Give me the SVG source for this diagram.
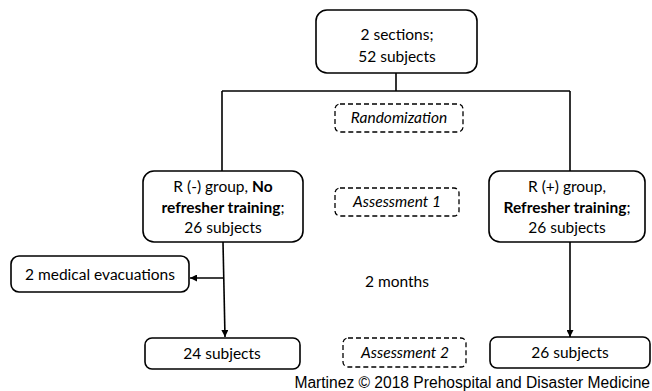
<svg xmlns="http://www.w3.org/2000/svg" width="652" height="391" viewBox="0 0 652 391">
<style>
.box{fill:#fff;stroke:#000;stroke-width:1.6}
.dash{fill:#fff;stroke:#000;stroke-width:1.3;stroke-dasharray:5,3}
.t{font-family:Lato,"Open Sans",sans-serif;font-size:15.5px;fill:#000;text-anchor:middle}
.i{font-style:italic}
.b{font-weight:bold}
.ln{stroke:#000;stroke-width:1.6;fill:none}
.foot{font-family:"Liberation Sans",Arial,sans-serif;font-size:15.6px;fill:#000;text-anchor:end}
</style>
<defs>
<marker id="ah" viewBox="0 0 10 10" refX="10" refY="5" markerWidth="7" markerHeight="7" markerUnits="userSpaceOnUse" orient="auto">
<path d="M0,0 L10,5 L0,10 z" fill="#000"/>
</marker>
</defs>
<g id="connectors">
<line class="ln" x1="396" y1="73" x2="396" y2="91"/>
<line class="ln" x1="222" y1="91" x2="570" y2="91"/>
<line class="ln" x1="222" y1="91" x2="222" y2="171"/>
<line class="ln" x1="570" y1="91" x2="570" y2="171"/>
<line class="ln" x1="223" y1="242" x2="225" y2="337" marker-end="url(#ah)"/>
<line class="ln" x1="224" y1="278" x2="190" y2="278" marker-end="url(#ah)"/>
<line class="ln" x1="570" y1="242" x2="570" y2="337" marker-end="url(#ah)"/>
</g>
<g id="n-top">
<rect class="box" x="316" y="10" width="161" height="63" rx="11"/>
<text class="t" x="397" y="40">2 sections;</text>
<text class="t" x="397" y="62">52 subjects</text>
</g>
<g id="n-rand">
<rect class="dash" x="335" y="104" width="128" height="28" rx="5"/>
<text class="t i" x="399" y="123">Randomization</text>
</g>
<g id="n-left">
<rect class="box" x="143" y="171" width="160" height="71" rx="11"/>
<text class="t" x="223" y="192">R (-) group, <tspan class="b">No</tspan></text>
<text class="t b" x="223" y="213">refresher training<tspan font-weight="normal">;</tspan></text>
<text class="t" x="223" y="233">26 subjects</text>
</g>
<g id="n-right">
<rect class="box" x="489" y="171" width="156" height="71" rx="11"/>
<text class="t" x="567" y="192">R (+) group,</text>
<text class="t b" x="567" y="213">Refresher training<tspan font-weight="normal">;</tspan></text>
<text class="t" x="567" y="233">26 subjects</text>
</g>
<g id="n-ass1">
<rect class="dash" x="335" y="188" width="124" height="28" rx="5"/>
<text class="t i" x="397" y="207">Assessment 1</text>
</g>
<g id="n-evac">
<rect class="box" x="11" y="256" width="178" height="36" rx="8"/>
<text class="t" x="100" y="280">2 medical evacuations</text>
</g>
<g id="n-months">
<text class="t" x="397" y="287">2 months</text>
</g>
<g id="n-24">
<rect class="box" x="145" y="338" width="155" height="31" rx="7"/>
<text class="t" x="222" y="359">24 subjects</text>
</g>
<g id="n-ass2">
<rect class="dash" x="343" y="338" width="123" height="29" rx="5"/>
<text class="t i" x="405" y="358">Assessment 2</text>
</g>
<g id="n-26">
<rect class="box" x="490" y="337" width="160" height="31" rx="7"/>
<text class="t" x="570" y="358">26 subjects</text>
</g>
<text class="foot" x="650" y="388">Martinez © 2018 Prehospital and Disaster Medicine</text>
</svg>
